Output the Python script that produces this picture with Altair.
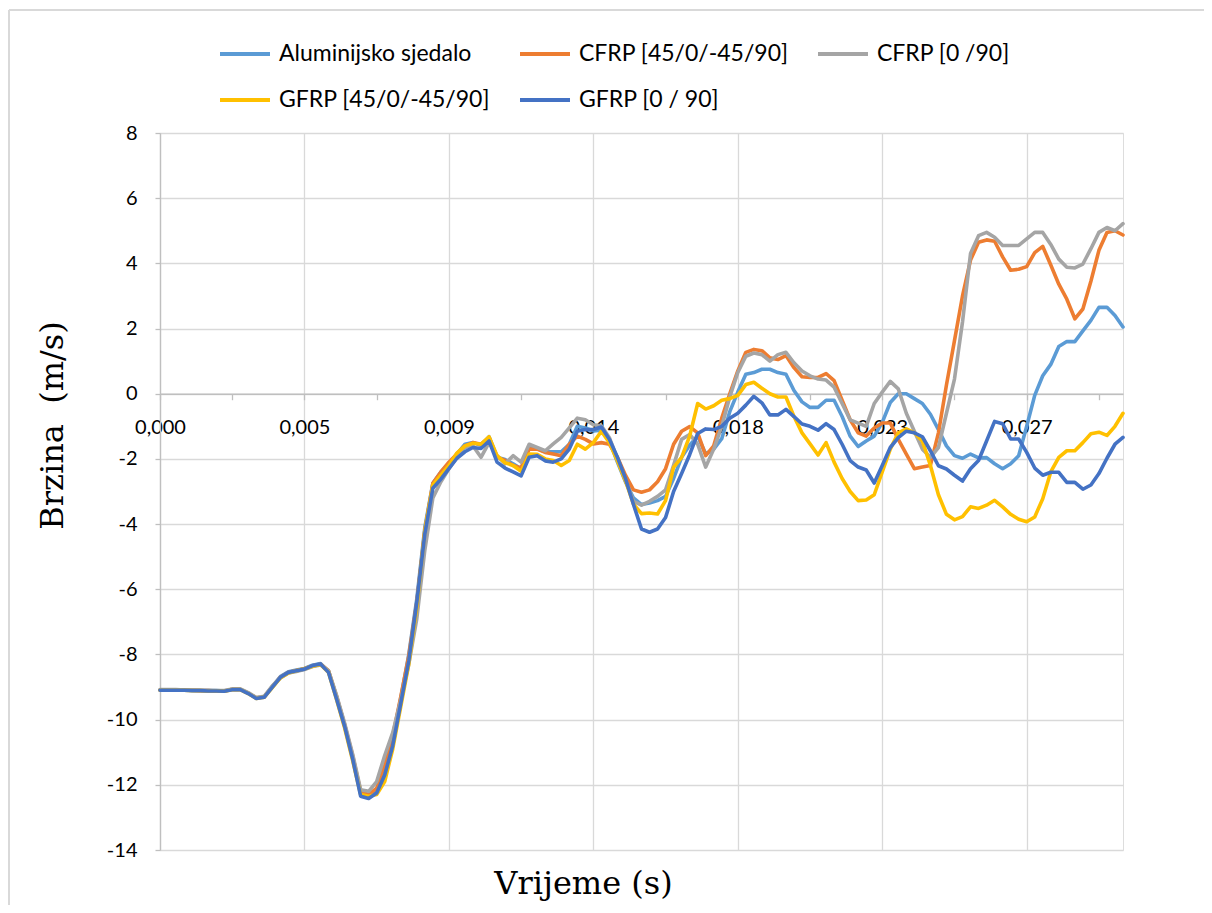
import altair as alt
import pandas as pd

# ---------------- data ----------------
STEP = 0.00025
time_s = [round(i * STEP, 5) for i in range(121)]

series_names = [
    "Aluminijsko sjedalo",
    "CFRP [45/0/-45/90]",
    "CFRP [0 /90]",
    "GFRP [45/0/-45/90]",
    "GFRP [0 / 90]",
]
series_colors = ["#5B9BD5", "#ED7D31", "#A5A5A5", "#FFC000", "#4472C4"]

alu = [
    -9.09, -9.09, -9.09, -9.09, -9.10, -9.10, -9.11, -9.11, -9.12, -9.07,
    -9.07, -9.19, -9.34, -9.30, -8.98, -8.68, -8.53, -8.48, -8.43, -8.33,
    -8.28, -8.52, -9.30, -10.15, -11.15, -12.25, -12.35, -12.15, -11.55, -10.60,
    -9.35, -8.00, -6.30, -4.10, -2.75, -2.40, -2.15, -1.85, -1.55, -1.50,
    -1.58, -1.32, -1.95, -2.02, -2.15, -2.30, -1.65, -1.68, -1.78, -1.78,
    -1.78, -1.55, -1.00, -1.05, -1.14, -1.12, -1.45, -2.10, -2.70, -3.20,
    -3.40, -3.35, -3.28, -3.15, -2.60, -1.95, -1.58, -1.30, -1.85, -1.70,
    -1.38, -0.55, 0.05, 0.60, 0.65, 0.75, 0.75, 0.65, 0.60, 0.10,
    -0.25, -0.42, -0.42, -0.20, -0.20, -0.70, -1.30, -1.62, -1.45, -1.30,
    -0.88, -0.27, 0.00, 0.00, -0.15, -0.30, -0.63, -1.10, -1.60, -1.90,
    -1.98, -1.85, -1.97, -1.96, -2.15, -2.30, -2.15, -1.90, -1.00, -0.05,
    0.55, 0.90, 1.45, 1.60, 1.60, 1.93, 2.25, 2.65, 2.65, 2.40,
    2.05,
]

cfrp45 = [
    -9.09, -9.09, -9.09, -9.10, -9.10, -9.11, -9.11, -9.12, -9.12, -9.07,
    -9.07, -9.19, -9.33, -9.30, -8.99, -8.70, -8.55, -8.49, -8.44, -8.35,
    -8.30, -8.50, -9.28, -10.15, -11.10, -12.20, -12.30, -12.10, -11.40, -10.50,
    -9.30, -8.05, -6.40, -4.20, -2.75, -2.40, -2.10, -1.85, -1.60, -1.50,
    -1.55, -1.35, -1.95, -2.05, -2.20, -2.28, -1.70, -1.70, -1.80, -1.85,
    -1.90, -1.55, -1.30, -1.40, -1.54, -1.50, -1.55, -1.95, -2.50, -2.95,
    -3.02, -2.95, -2.70, -2.30, -1.55, -1.15, -1.01, -1.20, -1.90, -1.60,
    -0.75, 0.00, 0.70, 1.27, 1.36, 1.32, 1.10, 1.05, 1.17, 0.80,
    0.52, 0.50, 0.50, 0.62, 0.40, -0.20, -0.80, -1.20, -1.30, -1.05,
    -0.90, -0.90, -1.40, -1.85, -2.30, -2.25, -2.20, -1.20, 0.27, 1.63,
    3.00, 4.10, 4.65, 4.72, 4.68, 4.20, 3.79, 3.82, 3.90, 4.33,
    4.52, 3.95, 3.36, 2.90, 2.30, 2.60, 3.45, 4.40, 4.95, 5.00,
    4.87,
]

cfrp0 = [
    -9.08, -9.08, -9.08, -9.09, -9.09, -9.10, -9.10, -9.11, -9.11, -9.06,
    -9.06, -9.17, -9.32, -9.28, -8.96, -8.72, -8.57, -8.52, -8.46, -8.37,
    -8.32, -8.50, -9.25, -10.10, -11.05, -12.15, -12.20, -11.90, -11.10, -10.40,
    -9.40, -8.30, -6.90, -4.80, -3.20, -2.70, -2.30, -1.95, -1.65, -1.60,
    -1.95, -1.50, -1.90, -2.15, -1.90, -2.10, -1.55, -1.65, -1.75, -1.54,
    -1.34, -1.05, -0.75, -0.80, -0.95, -0.98, -1.35, -2.00, -2.65, -3.30,
    -3.42, -3.30, -3.15, -2.95, -2.20, -1.40, -1.25, -1.55, -2.25, -1.70,
    -1.00, -0.10, 0.65, 1.15, 1.25, 1.20, 1.00, 1.20, 1.27, 0.95,
    0.70, 0.55, 0.45, 0.42, 0.20, -0.30, -0.80, -0.90, -1.00, -0.30,
    0.05, 0.38, 0.15, -0.60, -1.15, -1.70, -1.95, -1.65, -0.60, 0.45,
    2.20, 4.30, 4.85, 4.95, 4.80, 4.55, 4.55, 4.55, 4.75, 4.95,
    4.95, 4.58, 4.13, 3.88, 3.86, 3.98, 4.45, 4.95, 5.10, 5.00,
    5.22,
]

gfrp45 = [
    -9.10, -9.10, -9.10, -9.10, -9.11, -9.11, -9.12, -9.12, -9.13, -9.08,
    -9.08, -9.20, -9.35, -9.31, -9.02, -8.72, -8.57, -8.50, -8.44, -8.36,
    -8.31, -8.55, -9.38, -10.25, -11.25, -12.30, -12.35, -12.30, -11.90, -10.90,
    -9.60, -8.30, -6.55, -4.20, -2.80, -2.50, -2.20, -1.82, -1.60, -1.52,
    -1.55, -1.32, -1.90, -2.12, -2.20, -2.38, -1.85, -1.86, -2.00, -2.05,
    -2.20, -2.05, -1.55, -1.70, -1.50, -1.15, -1.50, -2.06, -2.67, -3.39,
    -3.68, -3.66, -3.69, -3.28, -2.26, -1.95, -1.30, -0.30, -0.47, -0.37,
    -0.20, -0.15, -0.05, 0.28, 0.35, 0.17, 0.00, -0.10, -0.10, -0.70,
    -1.20, -1.54, -1.88, -1.50, -2.10, -2.60, -3.00, -3.28, -3.26, -3.10,
    -2.40, -1.70, -1.20, -1.08, -1.20, -1.45, -2.20, -3.10, -3.70, -3.87,
    -3.77, -3.47, -3.52, -3.42, -3.27, -3.47, -3.70, -3.85, -3.93, -3.78,
    -3.22, -2.40, -1.95, -1.75, -1.75, -1.50, -1.23, -1.18, -1.28, -1.00,
    -0.60,
]

gfrp0 = [
    -9.10, -9.10, -9.10, -9.10, -9.11, -9.11, -9.12, -9.12, -9.13, -9.08,
    -9.08, -9.20, -9.35, -9.31, -9.00, -8.70, -8.55, -8.50, -8.45, -8.34,
    -8.29, -8.55, -9.37, -10.20, -11.20, -12.35, -12.42, -12.25, -11.70, -10.80,
    -9.50, -8.20, -6.40, -4.30, -2.90, -2.62, -2.30, -1.98, -1.78, -1.65,
    -1.68, -1.45, -2.10, -2.28, -2.40, -2.52, -1.95, -1.90, -2.06, -2.10,
    -2.00, -1.70, -1.15, -1.10, -1.10, -1.02, -1.40, -1.95, -2.60, -3.40,
    -4.15, -4.25, -4.15, -3.80, -3.00, -2.45, -1.87, -1.22, -1.08, -1.10,
    -1.00, -0.75, -0.60, -0.35, -0.08, -0.28, -0.65, -0.65, -0.48, -0.70,
    -0.93, -1.00, -1.12, -0.92, -1.10, -1.55, -2.05, -2.25, -2.34, -2.74,
    -2.20, -1.65, -1.35, -1.15, -1.20, -1.32, -1.75, -2.21, -2.31, -2.50,
    -2.68, -2.30, -2.05, -1.45, -0.85, -0.92, -1.39, -1.39, -1.80, -2.28,
    -2.50, -2.41, -2.41, -2.72, -2.72, -2.93, -2.80, -2.45, -1.98, -1.55,
    -1.34,
]

y_ticks = [-14, -12, -10, -8, -6, -4, -2, 0, 2, 4, 6, 8]
x_major = 0.0045
x_ticks = [round(i * x_major / 2, 6) for i in range(14)]
X_MAX = 0.030

# ---------------- table ----------------
rows = []
for k, (name, vals) in enumerate(zip(series_names, [alu, cfrp45, cfrp0, gfrp45, gfrp0])):
    if len(vals) != len(time_s):
        raise ValueError(f"{name}: {len(vals)} values")
    for t, v in zip(time_s, vals):
        rows.append({"t": t, "v": v, "serie": name, "k": k})
df = pd.DataFrame(rows)

# ---------------- layout ----------------
W, H = 963, 717
Y_MIN, Y_MAX = -14, 8
zero_offset = -H * (0 - Y_MIN) / (Y_MAX - Y_MIN)

LABEL_FONT = "Lato"
TITLE_FONT = "DejaVu Serif"

major_test = "abs(datum.value / 0.0045 - round(datum.value / 0.0045)) < 0.01"

x_axis = alt.Axis(
    title="Vrijeme (s)",
    titleFont=TITLE_FONT,
    titleFontSize=32,
    titleFontWeight="normal",
    titleColor="#000000",
    titleX=423,
    titleY=490,
    titleAnchor="start",
    titleAlign="center",
    titleBaseline="middle",
    values=x_ticks,
    labelExpr=f"{major_test} ? replace(format(datum.value + 1e-9, '.3f'), '.', ',') : ''",
    labelFont=LABEL_FONT,
    labelFontSize=20,
    labelColor="#000000",
    labelPadding=18,
    labelFlush=False,
    labelOverlap=False,
    labelBound=False,
    domainColor="#bfbfbf",
    domainWidth=1.3,
    tickColor="#bfbfbf",
    tickSize=6,
    tickWidth=1.3,
    grid=True,
    gridColor="#d9d9d9",
    gridWidth=1.3,
    gridOpacity={"condition": {"test": major_test, "value": 1}, "value": 0},
    offset=zero_offset,
)

y_axis = alt.Axis(
    title="Brzina\u00a0 (m/s)",
    titleFont=TITLE_FONT,
    titleFontSize=32,
    titleFontWeight="normal",
    titleColor="#000000",
    titleX=-108,
    titleY=292,
    titleAnchor="start",
    titleAlign="center",
    titleBaseline="middle",
    values=y_ticks,
    labelExpr="'' + datum.value",
    labelFont=LABEL_FONT,
    labelFontSize=20,
    labelColor="#000000",
    labelPadding=18,
    domainColor="#bfbfbf",
    domainWidth=1.3,
    tickColor="#bfbfbf",
    tickSize=5,
    tickWidth=1.3,
    grid=True,
    gridColor="#d9d9d9",
    gridWidth=1.3,
)

legend = alt.Legend(
    title=None,
    orient="none",
    legendX=58,
    legendY=-106,
    direction="horizontal",
    columns=3,
    symbolType="stroke",
    symbolSize=2500,
    symbolStrokeWidth=3.8,
    labelFont=LABEL_FONT,
    labelFontSize=23,
    labelColor="#000000",
    labelOffset=7,
    labelLimit=400,
    columnPadding=21,
    rowPadding=7,
)

lines = (
    alt.Chart(df)
    .mark_line(strokeWidth=3.6, strokeJoin="round", strokeCap="round")
    .encode(
        x=alt.X("t:Q", scale=alt.Scale(domain=[0, X_MAX], nice=False, zero=False), axis=x_axis),
        y=alt.Y("v:Q", scale=alt.Scale(domain=[Y_MIN, Y_MAX], nice=False), axis=y_axis),
        color=alt.Color(
            "serie:N",
            scale=alt.Scale(domain=series_names, range=series_colors),
            sort=series_names,
            legend=legend,
        ),
        order=alt.Order("t:Q"),
        detail="k:O",
    )
)

# light frame of the chart area (decoration only): top and left edges
frame_data = alt.Data(values=[{"f": 1}])
frame_top = (
    alt.Chart(frame_data)
    .mark_rule(stroke="#d9d9d9", strokeWidth=2)
    .encode(x=alt.value(-151), x2=alt.value(W + 100), y=alt.value(-123))
)
frame_left = (
    alt.Chart(frame_data)
    .mark_rule(stroke="#d9d9d9", strokeWidth=2)
    .encode(x=alt.value(-151), y=alt.value(-123), y2=alt.value(H + 80))
)

chart = (
    alt.layer(frame_top, frame_left, lines)
    .properties(
        width=W,
        height=H,
        autosize=alt.AutoSizeParams(type="none"),
        padding={"left": 152, "top": 125, "right": 81, "bottom": 55},
    )
    .configure_view(stroke="#d9d9d9", strokeWidth=1.3)
    .configure(background="#ffffff")
)

chart.save("out.html", embed_options={"renderer": "svg", "actions": False})
